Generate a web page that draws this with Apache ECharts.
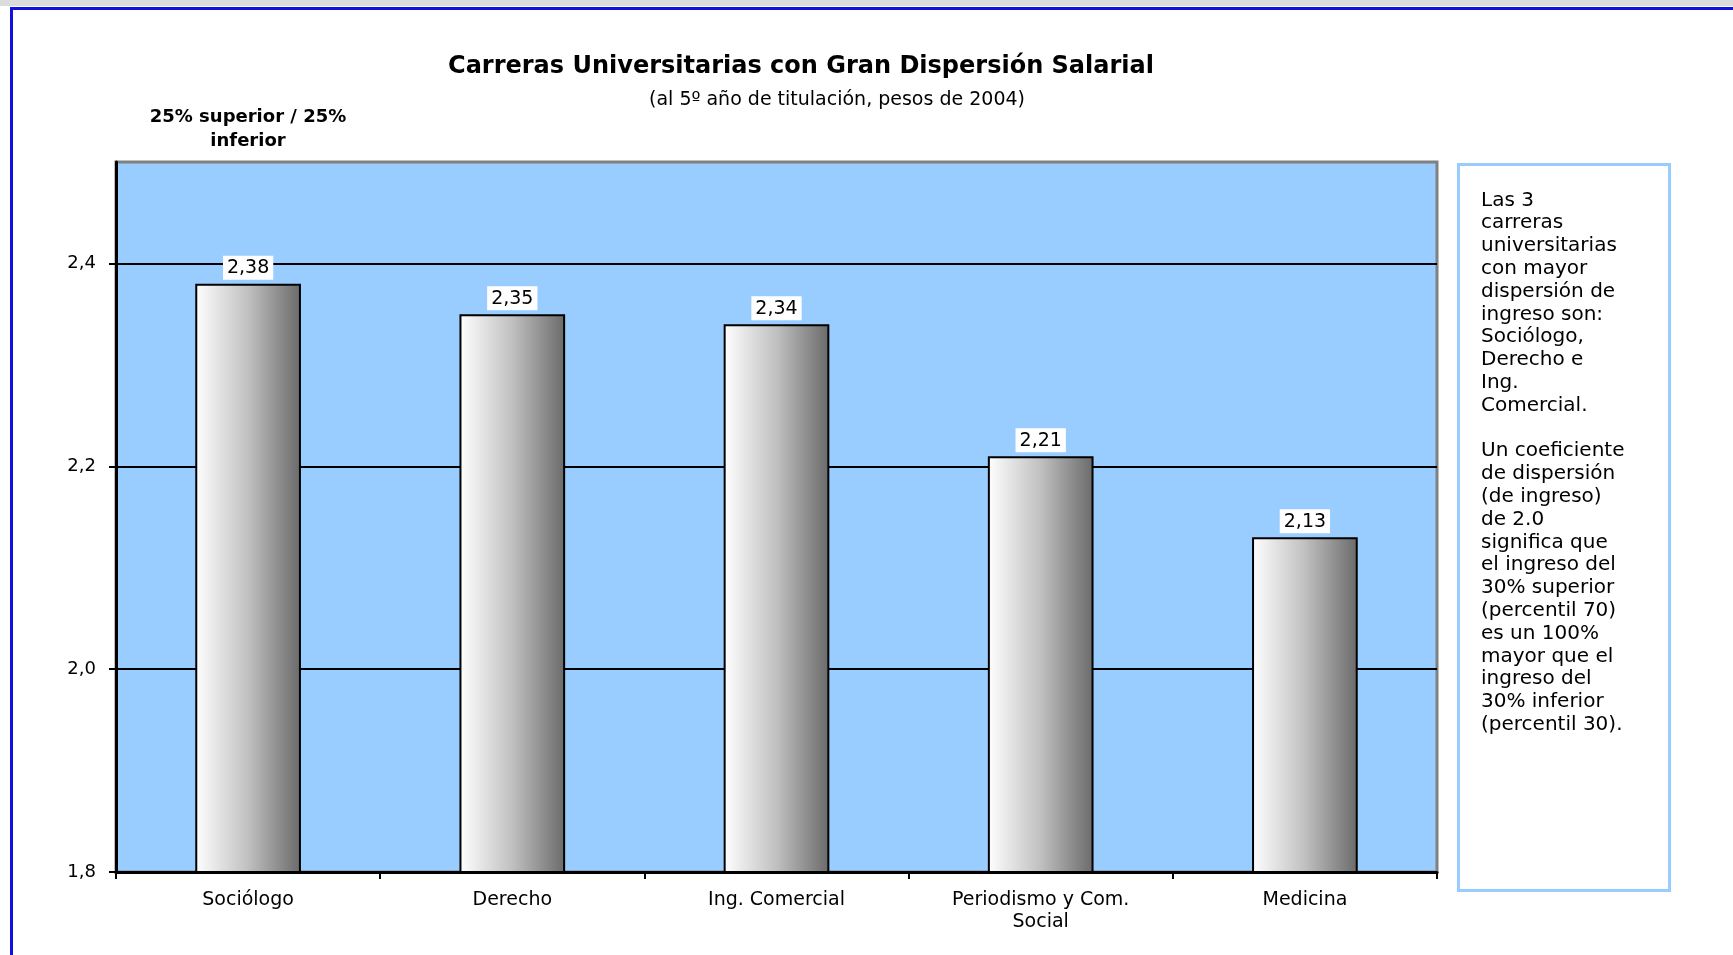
<!DOCTYPE html>
<html>
<head>
<meta charset="utf-8">
<script src="https://cdn.jsdelivr.net/npm/echarts@6/dist/echarts.min.js"></script>
<style>
  html, body {margin: 0; padding: 0; background: #fff;}
  #chart {width: 1733px; height: 955px;}
</style>
</head>
<body>
<div id="chart"></div>
<script>
const carreras = ['Sociólogo', 'Derecho', 'Ing. Comercial', 'Periodismo y Com.\nSocial', 'Medicina']
const dispersion = [2.38, 2.35, 2.34, 2.21, 2.13]
const notaLineas = [
  'Las 3', 'carreras', 'universitarias', 'con mayor', 'dispersión de', 'ingreso son:',
  'Sociólogo,', 'Derecho e', 'Ing.', 'Comercial.', '',
  'Un coeficiente', 'de dispersión', '(de ingreso)', 'de 2.0', 'significa que',
  'el ingreso del', '30% superior', '(percentil 70)', 'es un 100%', 'mayor que el',
  'ingreso del', '30% inferior', '(percentil 30).'
]

const font = 'DejaVu Sans'
const coma = v => String(v).replace('.', ',')

const myChart = echarts.init(document.getElementById('chart'))
myChart.setOption({
  animation: false,
  textStyle: {fontFamily: font},
  title: [
    {
      text: 'Carreras Universitarias con Gran Dispersión Salarial',
      left: 796, top: 50, textAlign: 'center',
      textStyle: {fontFamily: font, fontSize: 24, fontWeight: 'bold', color: '#000'}
    },
    {
      text: '(al 5º año de titulación, pesos de 2004)',
      left: 832, top: 86, textAlign: 'center',
      textStyle: {fontFamily: font, fontSize: 19, fontWeight: 'normal', color: '#000'}
    },
    {
      text: '25% superior / 25%\ninferior',
      left: 243, top: 100, textAlign: 'center',
      textStyle: {fontFamily: font, fontSize: 18, fontWeight: 'bold', color: '#000', lineHeight: 24}
    }
  ],
  grid: {
    left: 116, right: 296, top: 162, bottom: 83,
    show: true,
    backgroundColor: '#99ccff',
    borderColor: '#808080',
    borderWidth: 3
  },
  xAxis: {
    type: 'category',
    data: carreras,
    axisLine: {lineStyle: {color: '#000', width: 3}},
    axisTick: {show: true, length: 7, lineStyle: {color: '#000', width: 2}},
    axisLabel: {color: '#000', fontSize: 19, margin: 17, lineHeight: 22, interval: 0}
  },
  yAxis: {
    type: 'value',
    min: 1.8, max: 2.5, interval: 0.2,
    axisLine: {show: true, lineStyle: {color: '#000', width: 3}},
    axisTick: {show: true, length: 7, lineStyle: {color: '#000', width: 2}},
    splitLine: {show: true, showMaxLine: false, lineStyle: {color: '#000', width: 2}},
    axisLabel: {
      color: '#000', fontSize: 18, margin: 20, showMaxLabel: false,
      formatter: v => coma(v.toFixed(1))
    }
  },
  series: [{
    type: 'bar',
    data: dispersion,
    barWidth: '40%',
    itemStyle: {
      borderColor: '#000',
      borderWidth: 2,
      color: new echarts.graphic.LinearGradient(0, 0, 1, 0, [
        {offset: 0, color: '#ffffff'},
        {offset: 0.5, color: '#c0c0c0'},
        {offset: 1, color: '#6a6a6a'}
      ])
    },
    label: {
      show: true,
      position: 'top',
      distance: 4,
      color: '#000',
      fontSize: 19,
      backgroundColor: '#fff',
      padding: [3, 4, 2, 4],
      formatter: p => coma(p.value.toFixed(2))
    }
  }],
  graphic: [
    {type: 'rect', left: 0, top: 0, shape: {width: 1733, height: 6}, style: {fill: '#dcdcdc'}, silent: true},
    {type: 'rect', left: 9, top: 6, shape: {width: 1760, height: 1000}, style: {fill: 'none', stroke: '#1010e0', lineWidth: 3}, silent: true},
    {
      type: 'rect', left: 1457, top: 163,
      shape: {width: 211, height: 726},
      style: {fill: '#fff', stroke: '#99ccff', lineWidth: 3}
    },
    {
      type: 'text', left: 1481, top: 189,
      style: {
        text: notaLineas.join('\n'),
        fontFamily: font, fontSize: 20, lineHeight: 22.8, fill: '#000'
      }
    }
  ]
})
</script>
</body>
</html>
